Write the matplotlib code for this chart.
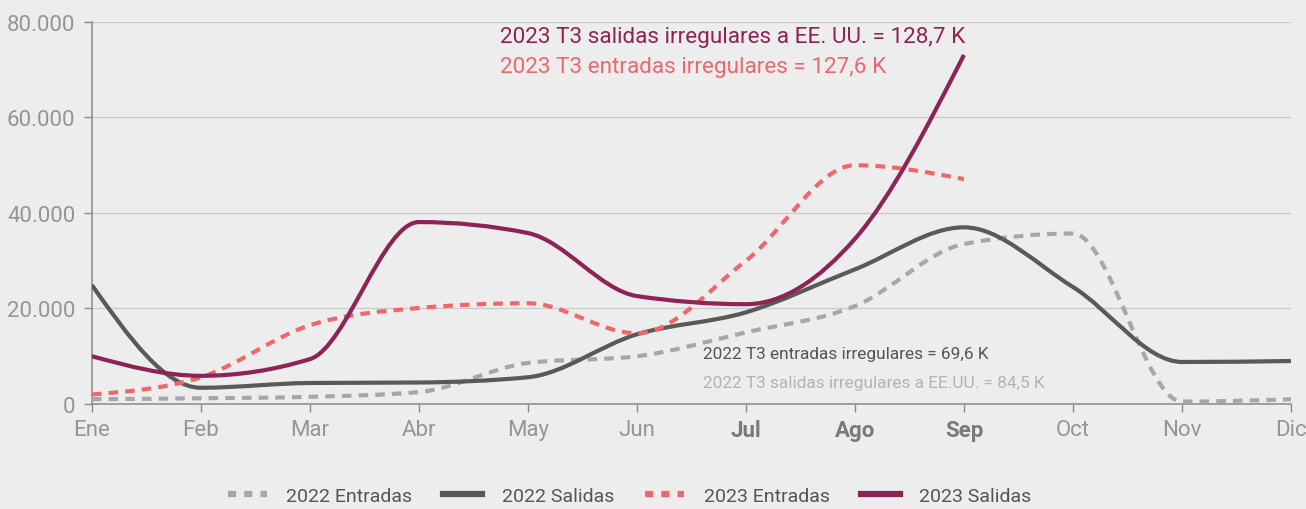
import numpy as np
import matplotlib
matplotlib.use("Agg")
import matplotlib.pyplot as plt
from matplotlib.path import Path
from matplotlib.patches import PathPatch
from matplotlib.lines import Line2D

plt.rcParams['font.family'] = ['Roboto', 'DejaVu Sans']

meses = ['Ene', 'Feb', 'Mar', 'Abr', 'May', 'Jun', 'Jul', 'Ago', 'Sep', 'Oct', 'Nov', 'Dic']
meses_negrita = ['Jul', 'Ago', 'Sep']

entradas_2022 = [1000, 1200, 1500, 2500, 8600, 10000, 15000, 20500, 33500, 35700, 500, 1000]
salidas_2022 = [24900, 3400, 4400, 4500, 5600, 14600, 19200, 28200, 37000, 24500, 8800, 9000]
entradas_2023 = [2000, 5600, 16500, 20100, 21100, 14800, 30000, 50000, 47100]
salidas_2023 = [10000, 5900, 9400, 38100, 35800, 22600, 20900, 34600, 73100]

C_BG = '#ecedec'
C_E22 = '#a7a7a9'
C_S22 = '#595959'
C_E23 = '#ef676d'
C_S23 = '#8e2356'


def curva_monotona(xs, ys):
    # curva monotona (tipo d3.curveMonotoneX) como trayectoria Bezier
    x = np.asarray(xs, float)
    y = np.asarray(ys, float)
    n = len(x)
    h = np.diff(x)
    s = np.diff(y) / h
    t = np.zeros(n)
    for i in range(1, n - 1):
        p = (s[i - 1] * h[i] + s[i] * h[i - 1]) / (h[i - 1] + h[i])
        t[i] = (np.sign(s[i - 1]) + np.sign(s[i])) * min(abs(s[i - 1]), abs(s[i]), 0.5 * abs(p))
    t[0] = (3 * s[0] - t[1]) / 2
    t[-1] = (3 * s[-1] - t[-2]) / 2
    verts = [(x[0], y[0])]
    codes = [Path.MOVETO]
    for i in range(n - 1):
        dx = (x[i + 1] - x[i]) / 3
        verts += [(x[i] + dx, y[i] + dx * t[i]),
                  (x[i + 1] - dx, y[i + 1] - dx * t[i + 1]),
                  (x[i + 1], y[i + 1])]
        codes += [Path.CURVE4] * 3
    return Path(verts, codes)


fig = plt.figure(figsize=(13.06, 5.10), dpi=100, facecolor=C_BG)
ax = fig.add_axes([0.0704, 0.2059, 0.9181, 0.749])
ax.set_facecolor(C_BG)

series = [
    (entradas_2022, C_E22, (0, (2.3, 1.7)), '2022 Entradas'),
    (salidas_2022, C_S22, '-', '2022 Salidas'),
    (entradas_2023, C_E23, (0, (2.3, 1.7)), '2023 Entradas'),
    (salidas_2023, C_S23, '-', '2023 Salidas'),
]
handles = []
for vals, col, ls, lab in series:
    xs = np.arange(len(vals))
    patch = PathPatch(curva_monotona(xs, vals), fill=False, edgecolor=col, lw=3.0,
                      linestyle=ls, capstyle='butt', joinstyle='round', zorder=3)
    ax.add_patch(patch)
    handles.append(Line2D([], [], color=col, lw=4.5,
                          linestyle=ls if ls == '-' else (0, (1.3, 1.3)), label=lab))

ax.set_xlim(0, 11)
ax.set_ylim(0, 80000)
ax.set_yticks([0, 20000, 40000, 60000, 80000])
ax.set_yticklabels(['0', '20.000', '40.000', '60.000', '80.000'])
ax.set_xticks(range(12))
ax.set_xticklabels(meses)
for t in ax.get_xticklabels():
    if t.get_text() in meses_negrita:
        t.set_fontweight('bold')
        t.set_color('#7a7a7a')
    else:
        t.set_color('#959595')
for t in ax.get_yticklabels():
    t.set_color('#959595')

ax.tick_params(axis='both', labelsize=16, length=6, width=1, color='#8a8a8a')
ax.tick_params(axis='x', pad=5)
ax.tick_params(axis='y', pad=6)
ax.grid(axis='y', color='#c9c9c9', lw=0.9)
ax.set_axisbelow(True)
for s in ['top', 'right']:
    ax.spines[s].set_visible(False)
for s in ['left', 'bottom']:
    ax.spines[s].set_color('#8a8a8a')
    ax.spines[s].set_linewidth(1.1)

ax.text(3.74, 77000, '2023 T3 salidas irregulares a EE. UU. = 128,7 K', color=C_S23,
        fontsize=16.2, va='center', ha='left')
ax.text(3.74, 70700, '2023 T3 entradas irregulares = 127,6 K', color=C_E23,
        fontsize=16.2, va='center', ha='left')
ax.text(5.61, 10500, '2022 T3 entradas irregulares = 69,6 K', color='#555555',
        fontsize=12.4, va='center', ha='left')
ax.text(5.61, 4400, '2022 T3 salidas irregulares a EE.UU. = 84,5 K', color='#b3b3b3',
        fontsize=12.4, va='center', ha='left')

fig.legend(handles=handles, loc='center', bbox_to_anchor=(0.482, 0.025), ncol=4,
           frameon=False, fontsize=14, handlelength=2.0, columnspacing=1.6,
           handletextpad=1.0, labelcolor='#555555')

fig.savefig('out.png', dpi=100, facecolor=C_BG)
